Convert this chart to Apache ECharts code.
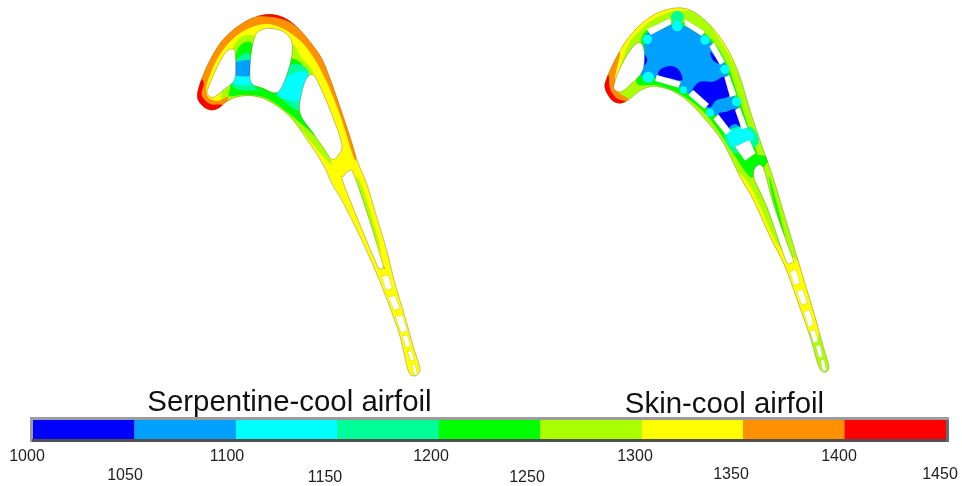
<!DOCTYPE html>
<html><head><meta charset="utf-8">
<style>html,body{margin:0;padding:0;background:#fff}#c{width:962px;height:486px;filter:blur(0.5px)}</style>
<script src="https://cdn.jsdelivr.net/npm/echarts@6/dist/echarts.min.js"></script>
</head><body><div id="c"></div>
<script>
// Colour scale
const bandEdges = [1000,1050,1100,1150,1200,1250,1300,1350,1400,1450];
const bandColors = ['#0000ff','#00a0ff','#00ffff','#00ff99','#00ff00','#aaff00','#ffff00','#ff9000','#ff0000'];
const tickValues = [1000,1050,1100,1150,1200,1250,1300,1350,1400,1450];
const tickLabelX = [27,125,227,325,431,527,635,731,839,940];
const tickLabelY = [457,476,457,478,457,478,457,475,457,475];
const titles = ['Serpentine-cool airfoil','Skin-cool airfoil'];
const NAVY='#0000ff',BLUE='#00a0ff',CYAN='#00ffff',TEAL='#00ff99',GREEN='#00ff00',LIME='#aaff00',YELLOW='#ffff00',ORANGE='#ff9000',RED='#ff0000';

// Outlines are traced in 3x crop units, relative to a frame origin in picture pixels
const serpHeadFrame=[180,0], serpTailFrame=[320,160], skinHeadFrame=[590,0], skinTailFrame=[730,160];

const serpOuterHead=[[52,290],[60,250],[85,190],[120,130],[165,85],[215,55],[265,43],[310,52],[350,80],[390,125],[425,175],[450,235],[480,320],[510,410],[535,490]];
const serpOuterTailA=[[140,70],[170,170],[200,270],[225,370],[255,470],[280,560],[300,632],[268,640]];
const serpOuterTailB=[[240,530],[205,430],[165,330],[120,230],[70,130],[35,70]];
const serpOuterHeadB=[[430,495],[385,425],[330,350],[270,305],[220,288],[175,290],[140,305],[115,325],[90,330],[65,315]];

const serpHoles=[
 [[155,147],[165,155],[167,190],[163,240],[130,270],[100,292],[85,285],[82,272],[105,215],[135,160]],
 [[235,95],[265,85],[310,95],[335,125],[335,170],[320,225],[300,270],[280,278],[250,265],[215,250],[210,210],[215,150],[225,110]],
 [[400,225],[420,260],[450,330],[485,430],[475,465],[455,478],[435,450],[400,400],[360,340],[365,280],[380,235]]
];
const serpTailSlot=[[87,33],[102,45],[150,186],[189,315],[192,321],[180,327],[171,315],[129,216],[69,66],[72,48]];
const serpTailHoles=[
 [[185,350],[205,345],[217,385],[198,390]],[[205,412],[225,407],[240,445],[222,450]],
 [[227,470],[247,465],[262,512],[243,518]],[[247,528],[262,525],[272,558],[258,562]],
 [[263,575],[275,572],[283,600],[272,603]],[[277,615],[285,612],[292,645],[282,645]]
];
const serpLayers=[
 [LIME,[[160,140],[215,105],[300,160],[335,130],[365,175],[400,220],[385,300],[420,400],[455,490],[430,470],[380,410],[330,358],[270,318],[200,298],[160,298],[125,310],[125,280]]],
 [GREEN,[[150,265],[172,150],[215,128],[240,200],[335,175],[375,215],[365,300],[400,375],[425,425],[380,385],[320,335],[260,295],[200,284],[150,288]]],
 [TEAL,[[170,180],[212,165],[225,260],[250,270],[160,262]]],
 [TEAL,[[300,270],[330,195],[385,215],[362,320],[340,325],[300,290]]],
 [CYAN,[[160,225],[215,222],[220,252],[165,252]]],
 [CYAN,[[290,280],[330,225],[385,220],[360,300],[320,298]]],
 [BLUE,[[160,190],[215,182],[215,225],[175,228],[162,220]]],
 [ORANGE,[[50,310],[55,240],[85,180],[120,125],[165,80],[215,50],[265,38],[320,50],[360,80],[400,125],[435,185],[460,250],[485,330],[510,405],[528,470],[520,470],[480,345],[435,235],[385,150],[330,98],[265,72],[200,88],[150,125],[110,180],[80,255],[85,292],[115,302],[145,290],[125,330],[80,335]]],
 [RED,[[45,295],[60,240],[72,250],[65,285],[90,312],[128,315],[115,338],[65,335]]],
 [RED,[[212,48],[265,38],[320,48],[362,88],[320,62],[268,50]]]
];
const serpTailLayers=[
 [LIME,[[108,55],[122,70],[155,170],[185,280],[168,240],[128,130]]]
];

const skinOuterHead=[[45,265],[50,235],[75,180],[110,120],[150,75],[200,40],[255,24],[300,30],[345,60],[385,105],[420,160],[450,230],[480,330],[510,420],[535,490]];
const skinOuterTailA=[[135,70],[165,170],[195,270],[225,370],[255,470],[280,560],[297,625],[270,628]];
const skinOuterTailB=[[240,530],[205,430],[165,320],[120,230],[70,120],[30,50]];
const skinOuterHeadB=[[400,430],[355,370],[300,310],[250,275],[200,260],[165,265],[140,280],[115,300],[90,310],[65,300]];

const skinCavity=[[150,128],[162,150],[162,195],[150,225],[125,250],[95,275],[75,270],[72,255],[90,205],[125,145]];
const skinSlots=[
 [[170,88],[240,55],[245,72],[182,105]],[[285,57],[345,95],[335,108],[283,75]],
 [[372,127],[405,185],[390,195],[358,140]],[[418,225],[440,285],[420,292],[403,232]],
 [[450,322],[473,383],[455,388],[435,330]],[[478,420],[497,460],[465,482],[435,440]],
 [[200,225],[273,245],[265,263],[195,243]],[[310,270],[357,312],[343,327],[295,285]],
 [[385,343],[423,392],[408,405],[370,358]]
];
const skinTailSlot=[[97,18],[129,129],[171,249],[190,300],[187,306],[172,310],[156,270],[111,141],[70,45]];
const skinTailHoles=[
 [[180,335],[198,330],[210,370],[192,375]],[[200,393],[218,388],[232,430],[215,435]],
 [[222,455],[240,450],[250,495],[235,500]],[[240,513],[255,510],[265,545],[250,548]],
 [[257,558],[270,555],[278,590],[267,593]],[[272,600],[282,598],[290,632],[277,632]]
];
const skinLayers=[
 [YELLOW,[[40,320],[40,200],[100,110],[170,45],[255,15],[300,25],[295,32],[255,32],[195,55],[145,95],[115,135],[95,190],[80,250],[90,300]]],
 [YELLOW,[[350,55],[395,105],[430,160],[460,230],[490,330],[520,420],[545,490],[538,490],[510,410],[480,320],[450,230],[415,160],[380,105]]],
 [GREEN,[[165,95],[260,65],[345,100],[405,180],[445,290],[478,390],[505,480],[490,530],[470,520],[430,460],[350,345],[270,282],[200,256],[140,250],[150,170]]],
 [BLUE,[[170,100],[260,75],[345,110],[400,180],[430,280],[470,385],[420,400],[375,345],[300,285],[270,260],[200,235],[155,230],[165,170]]],
 [NAVY,[[205,225],[212,208],[240,198],[265,208],[277,240],[240,235]]],
 [NAVY,[[310,265],[330,245],[370,245],[405,232],[420,285],[380,300],[355,322],[310,275]]],
 [NAVY,[[385,345],[410,335],[440,330],[450,385],[420,395]]],
 [NAVY,[[158,158],[172,180],[158,198]]],
 [NAVY,[[362,155],[388,190],[368,180]]],
 [BLUE,[[418,385],[435,372],[452,385],[440,402]]],
 [ORANGE,[[40,320],[40,215],[70,170],[90,160],[75,235],[85,275],[115,298],[100,322]]],
 [RED,[[40,305],[40,240],[55,225],[60,265],[80,295],[112,306],[90,322]]]
];
const skinTailLayers=[
 [YELLOW,[[15,30],[65,85],[130,230],[165,280],[200,300],[235,370],[265,500],[255,540],[215,470],[170,350],[110,240],[40,100]]],
 [LIME,[[75,40],[105,5],[185,290],[165,260],[120,150]]],
 [GREEN,[[40,-10],[115,-10],[98,25],[70,50],[50,30]]],
 [GREEN,[[118,50],[140,130],[165,230],[150,190],[125,100]]]
];
// knob centres and radii on the webs of the skin-cool cavity: x, y, r, colour
const skinKnobs=[
 [262,52,19,TEAL],[262,78,16,CYAN],[172,118,14,CYAN],[345,120,14,CYAN],[405,208,14,CYAN],[440,305,14,CYAN],
 [175,232,17,CYAN],[280,270,11,CYAN],[360,338,12,CYAN]
];
const skinCyanPatch=[[415,395],[470,385],[490,420],[440,440],[420,430]];
const skinTealPatch=[[405,395],[480,380],[505,430],[445,460],[415,440]];

function frame(o,pts){return pts.map(p=>[o[0]+p[0]/3,o[1]+p[1]/3]);}
function spline(pts,steps){
  const n=pts.length,out=[];
  for(let i=0;i<n;i++){
    const a=pts[(i-1+n)%n],b=pts[i],c=pts[(i+1)%n],d=pts[(i+2)%n];
    for(let s=0;s<steps;s++){
      const t=s/steps,t2=t*t,t3=t2*t;
      out.push([0,1].map(k=>0.5*(2*b[k]+(c[k]-a[k])*t+(2*a[k]-5*b[k]+4*c[k]-d[k])*t2+(3*b[k]-a[k]-3*c[k]+d[k])*t3)));
    }
  }
  return out;
}
const serpOuter=[...frame(serpHeadFrame,serpOuterHead),...frame(serpTailFrame,serpOuterTailA),...frame(serpTailFrame,serpOuterTailB),...frame(serpHeadFrame,serpOuterHeadB)];
const skinOuter=[...frame(skinHeadFrame,skinOuterHead),...frame(skinTailFrame,skinOuterTailA),...frame(skinTailFrame,skinOuterTailB),...frame(skinHeadFrame,skinOuterHeadB)];

function airfoilSeries(outer,base,layers,holes,sharp,knobs){
  return {
    type:'custom',coordinateSystem:'cartesian2d',xAxisIndex:0,yAxisIndex:0,silent:true,clip:false,z:2,
    data:[[0,0]],
    renderItem(params,api){
      const toPx=pts=>pts.map(p=>api.coord(p));
      const poly=(pts,fill,extra)=>({type:'polygon',shape:{points:toPx(pts)},style:Object.assign({fill:fill},extra||{})});
      const shape=spline(outer,6);
      const inner=[poly(shape,base)];
      layers.forEach(l=>inner.push(poly(spline(l[1],6),l[0])));
      (knobs||[]).forEach(k=>{
        if(k.pts){inner.push(poly(spline(k.pts,6),k.c));return;}
        const c=api.coord([k.x,k.y]);
        inner.push({type:'circle',shape:{cx:c[0],cy:c[1],r:k.r},style:{fill:k.c}});
      });
      const edge={stroke:'rgba(110,90,20,0.55)',lineWidth:0.7};
      return {type:'group',children:[
        {type:'group',children:inner,clipPath:{type:'polygon',shape:{points:toPx(shape)}}},
        poly(shape,'none',edge),
        ...holes.map(h=>poly(spline(h,5),'#fff',edge)),
        ...sharp.map(h=>poly(h,'#fff',{stroke:'rgba(120,110,30,0.35)',lineWidth:0.5}))
      ]};
    }
  };
}
const skinExtras=[
 {pts:frame(skinHeadFrame,skinTealPatch),c:TEAL},
 {pts:frame(skinHeadFrame,skinCyanPatch),c:CYAN},
 ...skinKnobs.map(k=>{const p=frame(skinHeadFrame,[[k[0],k[1]]])[0];return {x:p[0],y:p[1],r:k[2]/3,c:k[3]};})
];
const series=[
 airfoilSeries(serpOuter,YELLOW,
   [...serpLayers.map(l=>[l[0],frame(serpHeadFrame,l[1])]),...serpTailLayers.map(l=>[l[0],frame(serpTailFrame,l[1])])],
   [...serpHoles.map(h=>frame(serpHeadFrame,h)),frame(serpTailFrame,serpTailSlot)],
   serpTailHoles.map(h=>frame(serpTailFrame,h))),
 airfoilSeries(skinOuter,LIME,
   [...skinLayers.map(l=>[l[0],frame(skinHeadFrame,l[1])]),...skinTailLayers.map(l=>[l[0],frame(skinTailFrame,l[1])])],
   [frame(skinHeadFrame,skinCavity),frame(skinTailFrame,skinTailSlot)],
   [...skinSlots.map(h=>frame(skinHeadFrame,h)),...skinTailHoles.map(h=>frame(skinTailFrame,h))],
   skinExtras),
 // colour bar frame + bands, on the temperature scale
 {type:'custom',xAxisIndex:1,yAxisIndex:1,silent:true,clip:false,z:3,
  data:[[bandEdges[0],bandEdges[bandEdges.length-1]]],encode:{x:[0,1]},
  renderItem(params,api){
    const a=api.coord([api.value(0),1]),b=api.coord([api.value(1),0]);
    const x0=a[0],y0=a[1],w=b[0]-a[0],h=b[1]-a[1];
    return {type:'group',children:[
      {type:'rect',shape:{x:x0-3,y:y0-3,width:w+6,height:h+6},style:{fill:'#9c9c9c'}},
      {type:'rect',shape:{x:x0-1,y:y0+h,width:w+4,height:3},style:{fill:'#505050'}},
      {type:'rect',shape:{x:x0+w,y:y0,width:3,height:h+3},style:{fill:'#6a6a6a'}}
    ]};
  }},
 {type:'custom',xAxisIndex:1,yAxisIndex:1,silent:true,clip:false,z:4,
  data:bandColors.map((c,i)=>[bandEdges[i],bandEdges[i+1],i]),encode:{x:[0,1]},
  renderItem(params,api){
    const a=api.coord([api.value(0),1]),b=api.coord([api.value(1),0]);
    return {type:'rect',shape:{x:a[0],y:a[1],width:b[0]-a[0],height:b[1]-a[1]},style:{fill:bandColors[api.value(2)]}};
  }},
 // tick labels, hand-placed in two staggered rows
 {type:'custom',xAxisIndex:0,yAxisIndex:0,silent:true,clip:false,z:5,
  data:tickValues.map((v,i)=>[tickLabelX[i],tickLabelY[i],v]),
  renderItem(params,api){
    const c=api.coord([api.value(0),api.value(1)]);
    return {type:'text',x:c[0],y:c[1],style:{text:String(api.value(2)),fill:'#222',font:'16px "Liberation Sans"',align:'center',verticalAlign:'middle'}};
  }}
];
const chart=echarts.init(document.getElementById('c'),null,{renderer:'canvas'});
chart.setOption({
  animation:false,backgroundColor:'#fff',
  title:[
    {text:titles[0],left:284.5,top:383,textAlign:'center',textStyle:{fontFamily:'Liberation Sans',fontSize:29.4,fontWeight:'normal',color:'#111'}},
    {text:titles[1],left:719.5,top:385,textAlign:'center',textStyle:{fontFamily:'Liberation Sans',fontSize:29.4,fontWeight:'normal',color:'#111'}}
  ],
  grid:[{left:0,top:0,width:962,height:486},{left:33,top:420,width:913,height:19}],
  xAxis:[{type:'value',gridIndex:0,min:0,max:962,show:false},{type:'value',gridIndex:1,min:1000,max:1450,interval:50,show:false}],
  yAxis:[{type:'value',gridIndex:0,min:0,max:486,inverse:true,show:false},{type:'value',gridIndex:1,min:0,max:1,show:false}],
  series:series
});
</script></body></html>
